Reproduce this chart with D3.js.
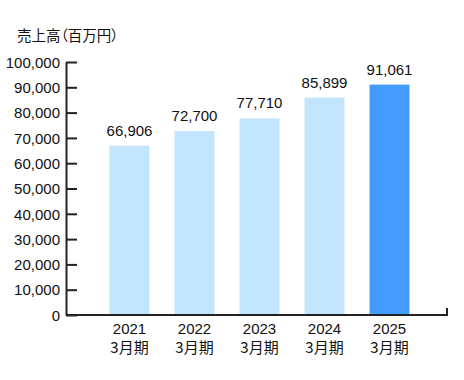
<!DOCTYPE html>
<meta charset="utf-8">
<html lang="ja">
<head>
<meta charset="utf-8">
<style>
  body { margin: 0; background: #fff; }
  text { font-family: "Liberation Sans", "Noto Sans CJK JP", sans-serif; fill: #111; }
  .jp { font-family: "Noto Sans CJK JP", sans-serif; font-feature-settings: "palt"; }
</style>
</head>
<body>
<div id="chart"></div>
<script src="https://d3js.org/d3.v7.min.js"></script>
<script>
// data
var years = ["2021", "2022", "2023", "2024", "2025"];
var periodLabel = "3月期";
var sales = [66906, 72700, 77710, 85899, 91061];
var yTicks = [0, 10000, 20000, 30000, 40000, 50000, 60000, 70000, 80000, 90000, 100000];
var title = "売上高（百万円）";

var W = 464, H = 380;
var svg = d3.select("#chart").append("svg")
    .attr("width", W)
    .attr("height", H);

// scales
var x = d3.scaleBand()
    .domain(years)
    .range([97, 422])
    .paddingInner(0.385)
    .paddingOuter(0.1925);

var y = d3.scaleLinear()
    .domain([0, 100000])
    .range([315, 62]);

var axisLeftX = 66, axisRightX = 447;

// title
svg.append("text")
    .attr("class", "jp")
    .attr("x", 17)
    .attr("y", 41)
    .style("font-size", "14.5px")
    .text(title);

// bars
svg.selectAll(".bar")
    .data(sales)
    .enter()
    .append("rect")
    .attr("x", function (d, i) { return x(years[i]); })
    .attr("y", function (d) { return y(d); })
    .attr("width", x.bandwidth())
    .attr("height", function (d) { return y(0) - y(d); })
    .attr("fill", function (d, i) { return i === years.length - 1 ? "#449dfd" : "#c3e4fd"; });

// value labels
svg.selectAll(".val")
    .data(sales)
    .enter()
    .append("text")
    .attr("x", function (d, i) { return x(years[i]) + x.bandwidth() / 2; })
    .attr("y", function (d) { return y(d) - 10; })
    .attr("text-anchor", "middle")
    .style("font-size", "15px")
    .text(function (d) { return d3.format(",")(d); });

// y axis (ticks point inward)
var yAxis = svg.append("g")
    .attr("transform", "translate(" + axisLeftX + ",0)")
    .call(d3.axisRight(y).tickValues(yTicks).tickSize(11).tickSizeOuter(0).tickFormat(d3.format(",")));
yAxis.select(".domain").attr("stroke", "#222").attr("stroke-width", 2);
yAxis.selectAll(".tick line").attr("stroke", "#222").attr("stroke-width", 2);
yAxis.selectAll(".tick text")
    .attr("x", -6)
    .attr("text-anchor", "end")
    .attr("dy", "0.35em")
    .style("font-size", "15px")
    .style("font-family", "'Liberation Sans', sans-serif")
    .attr("fill", "#111");

// x axis baseline with small end tick
svg.append("path")
    .attr("d", "M" + axisLeftX + "," + y(0) + "H" + axisRightX + "V" + (y(0) - 7))
    .attr("fill", "none")
    .attr("stroke", "#222")
    .attr("stroke-width", 2);

// x labels
var xl = svg.selectAll(".xl")
    .data(years)
    .enter()
    .append("text")
    .attr("x", function (d) { return x(d) + x.bandwidth() / 2; })
    .attr("text-anchor", "middle")
    .style("font-size", "15px");
xl.append("tspan")
    .attr("x", function (d) { return x(d) + x.bandwidth() / 2; })
    .attr("y", 334)
    .text(function (d) { return d; });
xl.append("tspan")
    .attr("x", function (d) { return x(d) + x.bandwidth() / 2; })
    .attr("y", 353)
    .attr("class", "jp")
    .text(periodLabel);
</script>
</body>
</html>
